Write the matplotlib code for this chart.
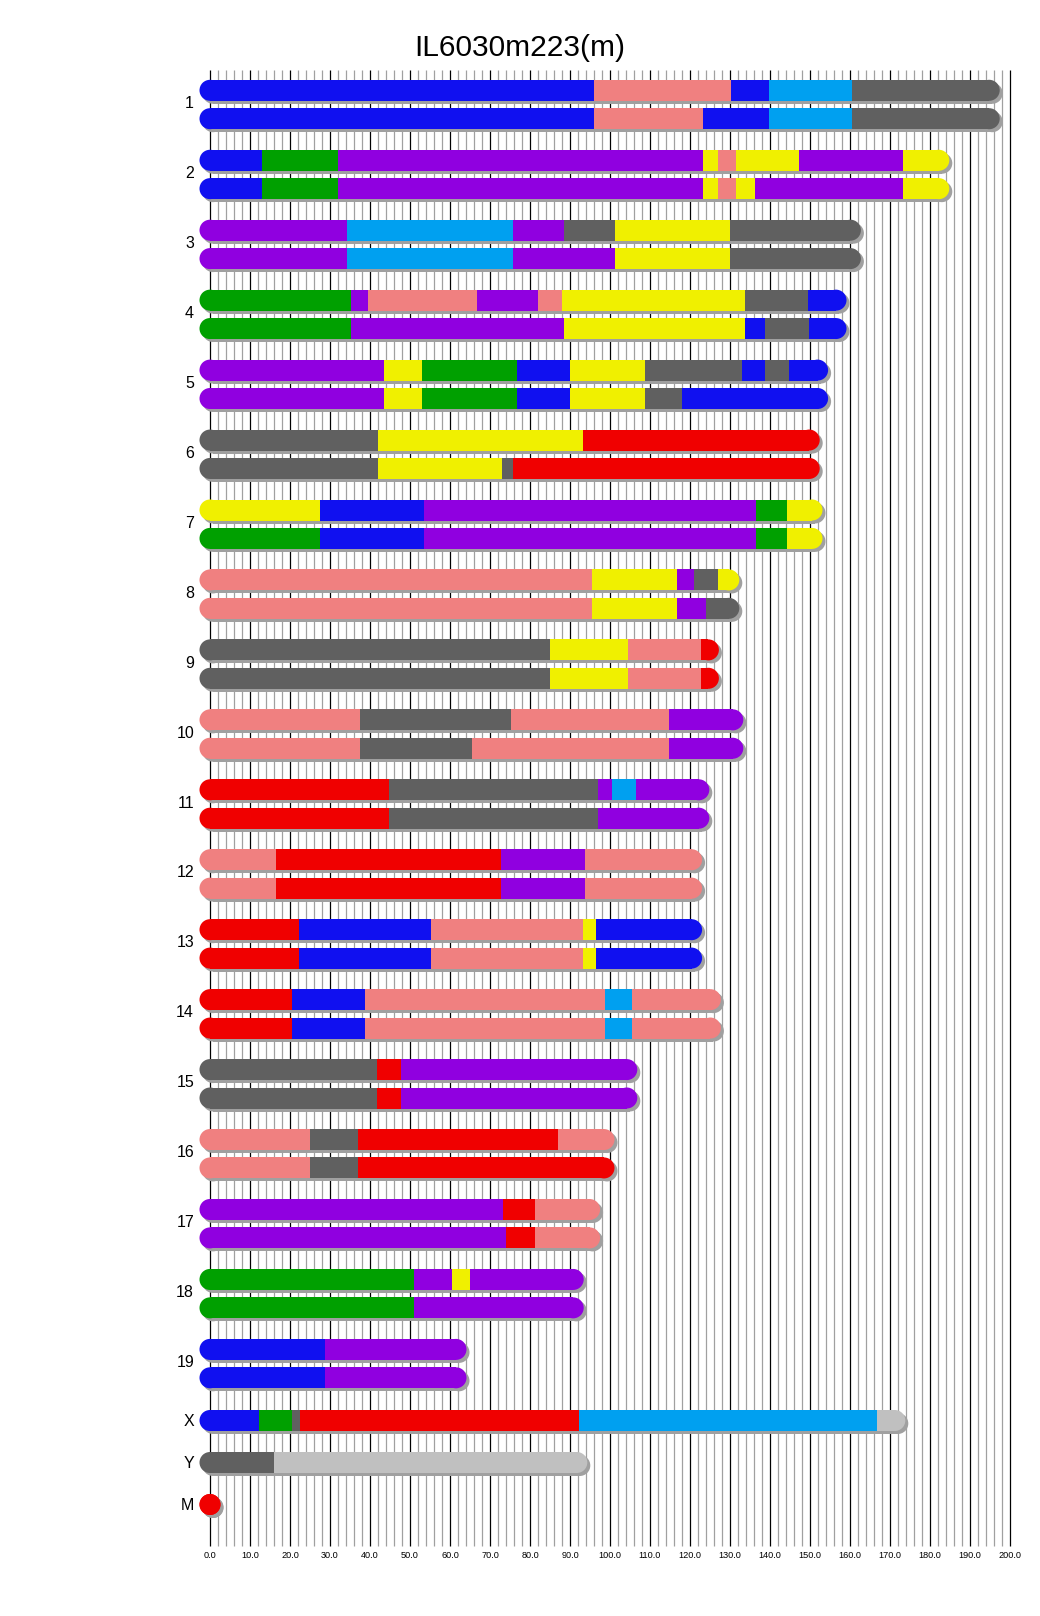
import matplotlib.pyplot as plt
from matplotlib.patches import Ellipse, Rectangle

plt.rcParams['font.family'] = ['Liberation Sans', 'DejaVu Sans']

title = 'IL6030m223(m)'

# founder colours (CC founder letters)
founder_colors = {
    'A': '#F0F000',  # yellow
    'B': '#606060',  # dark gray
    'C': '#F08080',  # salmon
    'D': '#1010F0',  # blue
    'E': '#00A0F0',  # light blue
    'F': '#00A000',  # green
    'G': '#F00000',  # red
    'H': '#9000E0',  # purple
    'N': '#C0C0C0',  # unknown / light gray
}

chrom_names = [str(i) for i in range(1, 20)]

# haplotype 1: segment end positions and founders, one row per chromosome
ends_a = [
    [96.1, 130.2, 139.8, 160.5, 194.8],
    [12.9, 31.9, 123.3, 127.0, 131.5, 147.3, 173.3, 182.2],
    [34.3, 75.8, 88.4, 101.3, 129.9, 160.1],
    [35.3, 39.4, 66.8, 82.0, 88.1, 133.8, 149.5, 156.5],
    [43.6, 53.1, 76.8, 90.0, 108.8, 133.0, 138.7, 144.8, 151.9],
    [42.0, 93.3, 149.8],
    [27.6, 53.6, 136.6, 144.3, 150.5],
    [95.4, 116.8, 120.9, 127.1, 129.7],
    [85.0, 104.4, 122.7, 124.6],
    [37.4, 75.3, 114.7, 130.7],
    [44.8, 96.9, 100.5, 106.4, 122.2],
    [16.5, 72.7, 93.8, 120.4],
    [22.2, 55.2, 93.3, 96.6, 120.4],
    [20.4, 38.7, 98.7, 105.4, 125.1],
    [41.8, 47.7, 104.2],
    [25.0, 37.1, 87.1, 98.5],
    [73.2, 81.2, 94.9],
    [51.0, 60.6, 64.9, 90.8],
    [28.7, 61.5],
]
founders_a = [
    'DCDEB', 'DFHACAHA', 'HEHBAB', 'FHCHCABD', 'HAFDABDBD', 'BAG', 'ADHFA',
    'CAHBA', 'BACG', 'CBCH', 'GBHEH', 'CGHC', 'GDCAD', 'GDCEC', 'BGH', 'CBGC',
    'HGC', 'FHAH', 'DH',
]

# haplotype 2
ends_b = [
    [96.1, 123.3, 139.8, 160.5, 194.8],
    [12.9, 31.9, 123.3, 127.0, 131.5, 136.3, 173.3, 182.2],
    [34.3, 75.8, 101.3, 129.9, 160.1],
    [35.3, 88.4, 133.8, 138.7, 149.7, 156.5],
    [43.6, 53.1, 76.8, 90.0, 108.8, 118.0, 151.9],
    [42.0, 72.9, 75.8, 149.8],
    [27.6, 53.6, 136.6, 144.3, 150.5],
    [95.4, 116.8, 124.0, 129.7],
    [85.0, 104.4, 122.7, 124.6],
    [37.4, 65.5, 114.7, 130.7],
    [44.8, 96.9, 122.2],
    [16.5, 72.7, 93.8, 120.4],
    [22.2, 55.2, 93.3, 96.6, 120.4],
    [20.4, 38.7, 98.7, 105.4, 125.1],
    [41.8, 47.7, 104.2],
    [25.0, 37.1, 98.5],
    [74.0, 81.2, 94.9],
    [51.0, 90.8],
    [28.7, 61.5],
]
founders_b = [
    'DCDEB', 'DFHACAHA', 'HEHAB', 'FHADBD', 'HAFDABD', 'BABG', 'FDHFA',
    'CAHB', 'BACG', 'CBCH', 'GBH', 'CGHC', 'GDCAD', 'GDCEC', 'BGH', 'CBG',
    'HGC', 'FH', 'DH',
]

# single-copy chromosomes
single_names = ['X', 'Y', 'M']
single_ends = [[12.3, 20.5, 22.5, 92.3, 166.8, 171.2], [16.0, 91.7], [0.0]]
single_founders = ['DFBGEN', 'BN', 'G']

shadow_color = '#A0A0A0'
bar_h = 21.0          # pixels
px_per_unit = 4.0

fig = plt.figure(figsize=(10.4, 16.16), dpi=100)
ax = fig.add_axes([0, 0, 1, 1])
ax.set_xlim(-210 / px_per_unit, (1040 - 210) / px_per_unit)
ax.set_ylim(1616, 0)
ax.axis('off')

# grid
grid_top, grid_bot = 70, 1546
for v in range(0, 201, 2):
    major = v % 10 == 0
    ax.vlines(v, grid_top, grid_bot, colors='black' if major else '#A0A0A0',
              lw=0.9, zorder=1)
    if major:
        ax.text(v, 1556, '%.1f' % v, ha='center', va='center', fontsize=6.6)

cap_w = bar_h / px_per_unit


def draw_bar(yc, ends, founders):
    length = ends[-1]
    # shadow
    dx, dy = 3 / px_per_unit, 3
    ax.add_patch(Rectangle((dx, yc - bar_h / 2 + dy), length, bar_h,
                           color=shadow_color, lw=0, zorder=2))
    for cx in (dx, length + dx):
        ax.add_patch(Ellipse((cx, yc + dy), cap_w, bar_h, color=shadow_color,
                             lw=0, zorder=2))
    # end caps
    ax.add_patch(Ellipse((0, yc), cap_w, bar_h, color=founder_colors[founders[0]],
                         lw=0, zorder=3))
    ax.add_patch(Ellipse((length, yc), cap_w, bar_h,
                         color=founder_colors[founders[-1]], lw=0, zorder=3))
    start = 0.0
    for end, f in zip(ends, founders):
        ax.add_patch(Rectangle((start, yc - bar_h / 2), end - start, bar_h,
                               color=founder_colors[f], lw=0, zorder=4))
        start = end


pitch = 69.95
for i, name in enumerate(chrom_names):
    y1 = 90.3 + pitch * i
    y2 = y1 + 28.4
    draw_bar(y1, ends_a[i], founders_a[i])
    draw_bar(y2, ends_b[i], founders_b[i])
    ax.text(-4.0, (y1 + y2) / 2 - 1, name, ha='right', va='center', fontsize=11.5)

single_y = [1420.5, 1462.5, 1504.5]
for name, yc, ends, fs in zip(single_names, single_y, single_ends, single_founders):
    draw_bar(yc, ends, fs)
    ax.text(-4.0, yc + 1, name, ha='right', va='center', fontsize=11.5)

ax.text(77.5, 48, title, ha='center', va='center', fontsize=21.5)

fig.savefig('out.png', dpi=100)
